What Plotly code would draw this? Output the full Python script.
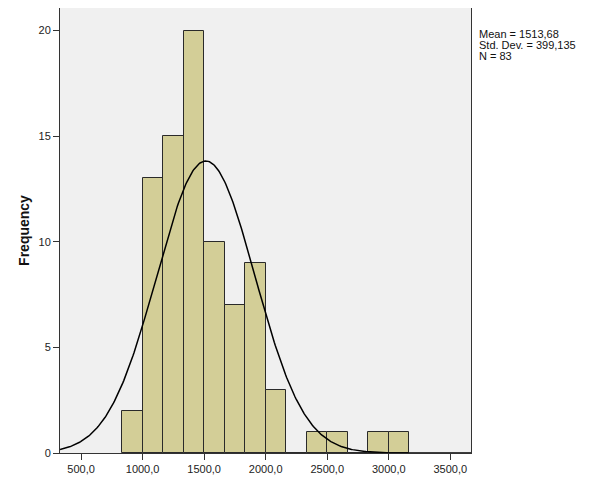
import numpy as np
import plotly.graph_objects as go

# histogram bins (left edges) and counts
bin_width = 500 / 3
bin_left = [833.3, 1000.0, 1166.7, 1333.3, 1500.0, 1666.7, 1833.3, 2000.0,
            2166.7, 2333.3, 2500.0, 2666.7, 2833.3, 3000.0]
counts = [2, 13, 15, 20, 10, 7, 9, 3, 0, 1, 1, 0, 1, 1]

mean = 1513.68
std = 399.135
n = 83

x_ticks = [500, 1000, 1500, 2000, 2500, 3000, 3500]
x_tick_labels = ['500,0', '1000,0', '1500,0', '2000,0', '2500,0', '3000,0', '3500,0']
y_ticks = [0, 5, 10, 15, 20]

stats_lines = ['Mean = 1513,68', 'Std. Dev. = 399,135', f'N = {n}']

x_range = [329, 3668]
y_range = [0, 21.07]

centers = [b + bin_width / 2 for b in bin_left]

# normal curve scaled to the histogram
xs = np.linspace(x_range[0], x_range[1], 400)
ys = n * bin_width * np.exp(-0.5 * ((xs - mean) / std) ** 2) / (std * np.sqrt(2 * np.pi))

fig = go.Figure()
fig.add_trace(go.Bar(
    x=centers,
    y=counts,
    width=[bin_width] * len(centers),
    marker=dict(color='#D3CE97', line=dict(color='#2a2a2a', width=1)),
    showlegend=False,
    hoverinfo='skip',
))
fig.add_trace(go.Scatter(
    x=xs,
    y=ys,
    mode='lines',
    line=dict(color='black', width=1.5),
    showlegend=False,
    hoverinfo='skip',
))

axis_font = dict(family='Liberation Sans, Arial, sans-serif', size=11, color='#222222')

# page body adds an 8px offset, so margins are trimmed to compensate
fig.update_layout(
    width=601,
    height=480,
    margin=dict(l=52, r=138, t=0, b=35, autoexpand=False),
    paper_bgcolor='white',
    plot_bgcolor='#F0F0F0',
    bargap=0,
    font=axis_font,
    xaxis=dict(
        range=x_range,
        tickvals=x_ticks,
        ticktext=x_tick_labels,
        ticks='outside',
        ticklen=6,
        tickcolor='#333333',
        showgrid=False,
        zeroline=False,
        showline=True,
        linecolor='#333333',
        mirror=True,
        tickfont=axis_font,
    ),
    yaxis=dict(
        range=y_range,
        tickvals=y_ticks,
        ticks='outside',
        ticklen=6,
        tickcolor='#333333',
        showgrid=False,
        zeroline=False,
        showline=True,
        linecolor='#333333',
        mirror=True,
        tickfont=axis_font,
        title=dict(
            text='<b>Frequency</b>',
            font=dict(family='Liberation Sans, Arial, sans-serif', size=14, color='#111111'),
            standoff=5,
        ),
    ),
)

for i, line in enumerate(stats_lines):
    fig.add_annotation(
        x=1, y=1,
        xref='paper', yref='paper',
        xanchor='left', yanchor='middle',
        xshift=6, yshift=-26 - 11 * i,
        align='left',
        showarrow=False,
        text=line,
        font=dict(family='Liberation Sans, Arial, sans-serif', size=11, color='#111111'),
    )

fig.write_html('out.html')
